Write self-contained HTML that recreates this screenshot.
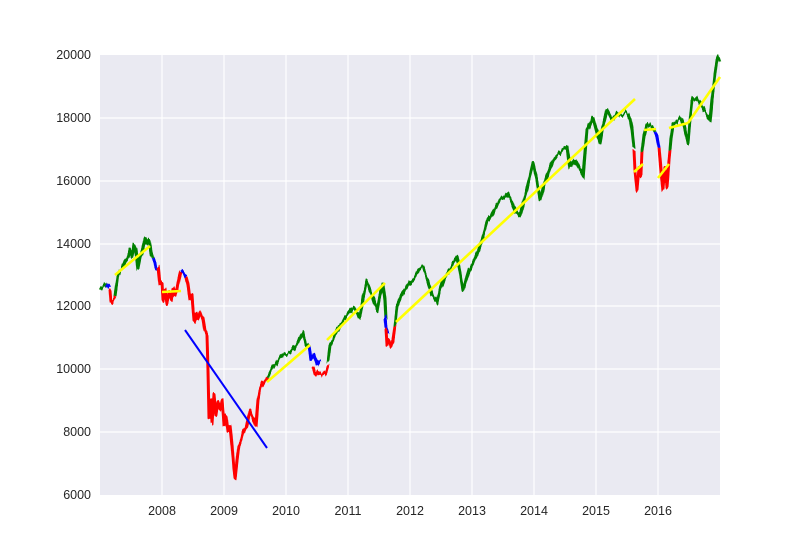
<!DOCTYPE html>
<html><head><meta charset="utf-8"><style>
body{margin:0;background:#fff;}
svg{display:block;font-family:"Liberation Sans",sans-serif;}
</style></head><body>
<svg width="800" height="550" viewBox="0 0 800 550">
<defs>
<filter id="jit" x="0" y="0" width="800" height="550" filterUnits="userSpaceOnUse" color-interpolation-filters="sRGB">
<feTurbulence type="fractalNoise" baseFrequency="0.35 0.02" numOctaves="2" seed="3" result="t"/>
<feColorMatrix in="t" type="matrix" values="0 0 0 0 0.5  0 1 0 0 0  0 0 1 0 0  0 0 0 0 1" result="m"/>
<feDisplacementMap in="SourceGraphic" in2="m" scale="9" xChannelSelector="R" yChannelSelector="G"/>
</filter>
</defs>
<rect x="100" y="55" width="620" height="440" fill="#eaeaf2"/>
<g stroke="#fff" stroke-width="1.2">
<line x1="162" y1="55" x2="162" y2="495"/><line x1="224" y1="55" x2="224" y2="495"/>
<line x1="286" y1="55" x2="286" y2="495"/><line x1="348" y1="55" x2="348" y2="495"/>
<line x1="410" y1="55" x2="410" y2="495"/><line x1="472" y1="55" x2="472" y2="495"/>
<line x1="534" y1="55" x2="534" y2="495"/><line x1="596" y1="55" x2="596" y2="495"/>
<line x1="658" y1="55" x2="658" y2="495"/>
<line x1="100" y1="118" x2="720" y2="118"/><line x1="100" y1="181" x2="720" y2="181"/>
<line x1="100" y1="244" x2="720" y2="244"/><line x1="100" y1="306" x2="720" y2="306"/>
<line x1="100" y1="369" x2="720" y2="369"/><line x1="100" y1="432" x2="720" y2="432"/>
</g>
<g filter="url(#jit)" fill="none" stroke-width="3" stroke-linejoin="round">
<polyline stroke="green" points="100,290 103,287 106,284 108,286"/>
<polyline stroke="blue" points="106,284 110,288"/>
<polyline stroke="red" points="110,290 111,302 113,300 115,296"/>
<polyline stroke="green" points="115,296 118,275 122,270 125,262 128,258 130,250 132,256 134,245 136,250 138,268 140,258 143,248 145,238 147,244 149,240 151,252 153,258"/>
<polyline stroke="blue" points="153,258 155,262 156,268 158,266"/>
<polyline stroke="red" points="158,266 160,285 162,282 163,300 165,290 167,304 169,292 171,300 173,288 175,296 177,290 179,280 181,272"/>
<polyline stroke="blue" points="181,272 183,271 186,276"/>
<polyline stroke="red" points="186,276 188,285 190,300 192,295 194,322 196,312 198,318 200,312 203,318 205,330 207,335 208,370 209,418 211,400 212,422 214,395 216,415 218,402 220,410 222,400 224,425 226,415 228,430 230,425 232,445 234,470 235,478 237,460 239,445 241,440 243,432 246,428 248,420 250,410 252,415 254,420 256,425 258,400 260,390 262,385 265,380 268,376"/>
<polyline stroke="green" points="268,376 272,368 276,364 280,358 284,354 290,353 296,345 303,333 306,345 309,343"/>
<polyline stroke="blue" points="309,345 311,360 314,355 317,365 320,360"/>
<polyline stroke="red" points="313,368 315,376 318,372 322,374 326,372 328,365"/>
<polyline stroke="green" points="328,362 330,345 333,340 340,325 347,315 353,307 357,312 360,317 363,298 367,282 372,295 377,310 380,295 383,283 385,300 386,320"/>
<polyline stroke="blue" points="385,318 386,328 388,334"/>
<polyline stroke="red" points="386,330 387,345 389,340 391,347 393,340 395,325"/>
<polyline stroke="green" points="395,325 397,307 401,296 405,290 410,282 415,276 419,270 423,267 428,280 432,295 437,302 441,285 446,275 452,265 457,257 460,272 463,290 466,280 469,270 473,263 478,252 482,240 487,223 493,212 500,200 504,197 507,193 511,200 516,212 520,218 524,200 529,180 533,163 537,180 540,200 545,182 550,168 553,160 558,155 562,150 567,147 570,168 575,160 580,170 583,177 587,130 590,125 593,117 597,132 600,143 603,125 607,110 612,120 617,113 622,115 627,113 630,118 632,130 634,148"/>
<polyline stroke="red" points="634,150 635,170 637,190 639,166 641,176 642,152"/>
<polyline stroke="green" points="642,152 644,135 647,122 650,125 652,127 655,132"/>
<polyline stroke="blue" points="655,132 657,137 659,148"/>
<polyline stroke="red" points="659,148 661,170 663,190 665,168 667,188 669,160 670,150"/>
<polyline stroke="green" points="670,150 671,138 673,123 677,120 680,117 684,125 688,143 690,120 692,100 696,98 700,103 705,112 710,120 712,100 715,73 717,60 718,57 720,60"/>
</g>
<g stroke="yellow" stroke-width="2.6">
<line x1="115" y1="275" x2="150" y2="246"/>
<line x1="162" y1="292" x2="181" y2="291"/>
<line x1="267" y1="382" x2="310" y2="345"/>
<line x1="327" y1="340" x2="385" y2="283"/>
<line x1="396" y1="322" x2="635" y2="99"/>
<line x1="634" y1="172" x2="643" y2="164"/>
<line x1="644" y1="130" x2="656" y2="129"/>
<line x1="658" y1="178" x2="669" y2="164"/>
<line x1="669" y1="128" x2="688" y2="123"/>
<line x1="688" y1="123" x2="720" y2="77"/>
</g>
<line x1="185" y1="330" x2="267" y2="448" stroke="blue" stroke-width="2"/>
<g font-size="12.5" fill="#262626" text-anchor="end">
<text x="91" y="59">20000</text><text x="91" y="122">18000</text><text x="91" y="185">16000</text>
<text x="91" y="248">14000</text><text x="91" y="310">12000</text><text x="91" y="373">10000</text>
<text x="91" y="436">8000</text><text x="91" y="499">6000</text>
</g>
<g font-size="12.5" fill="#262626" text-anchor="middle">
<text x="162" y="515">2008</text><text x="224" y="515">2009</text><text x="286" y="515">2010</text>
<text x="348" y="515">2011</text><text x="410" y="515">2012</text><text x="472" y="515">2013</text>
<text x="534" y="515">2014</text><text x="596" y="515">2015</text><text x="658" y="515">2016</text>
</g>
</svg>
</body></html>
